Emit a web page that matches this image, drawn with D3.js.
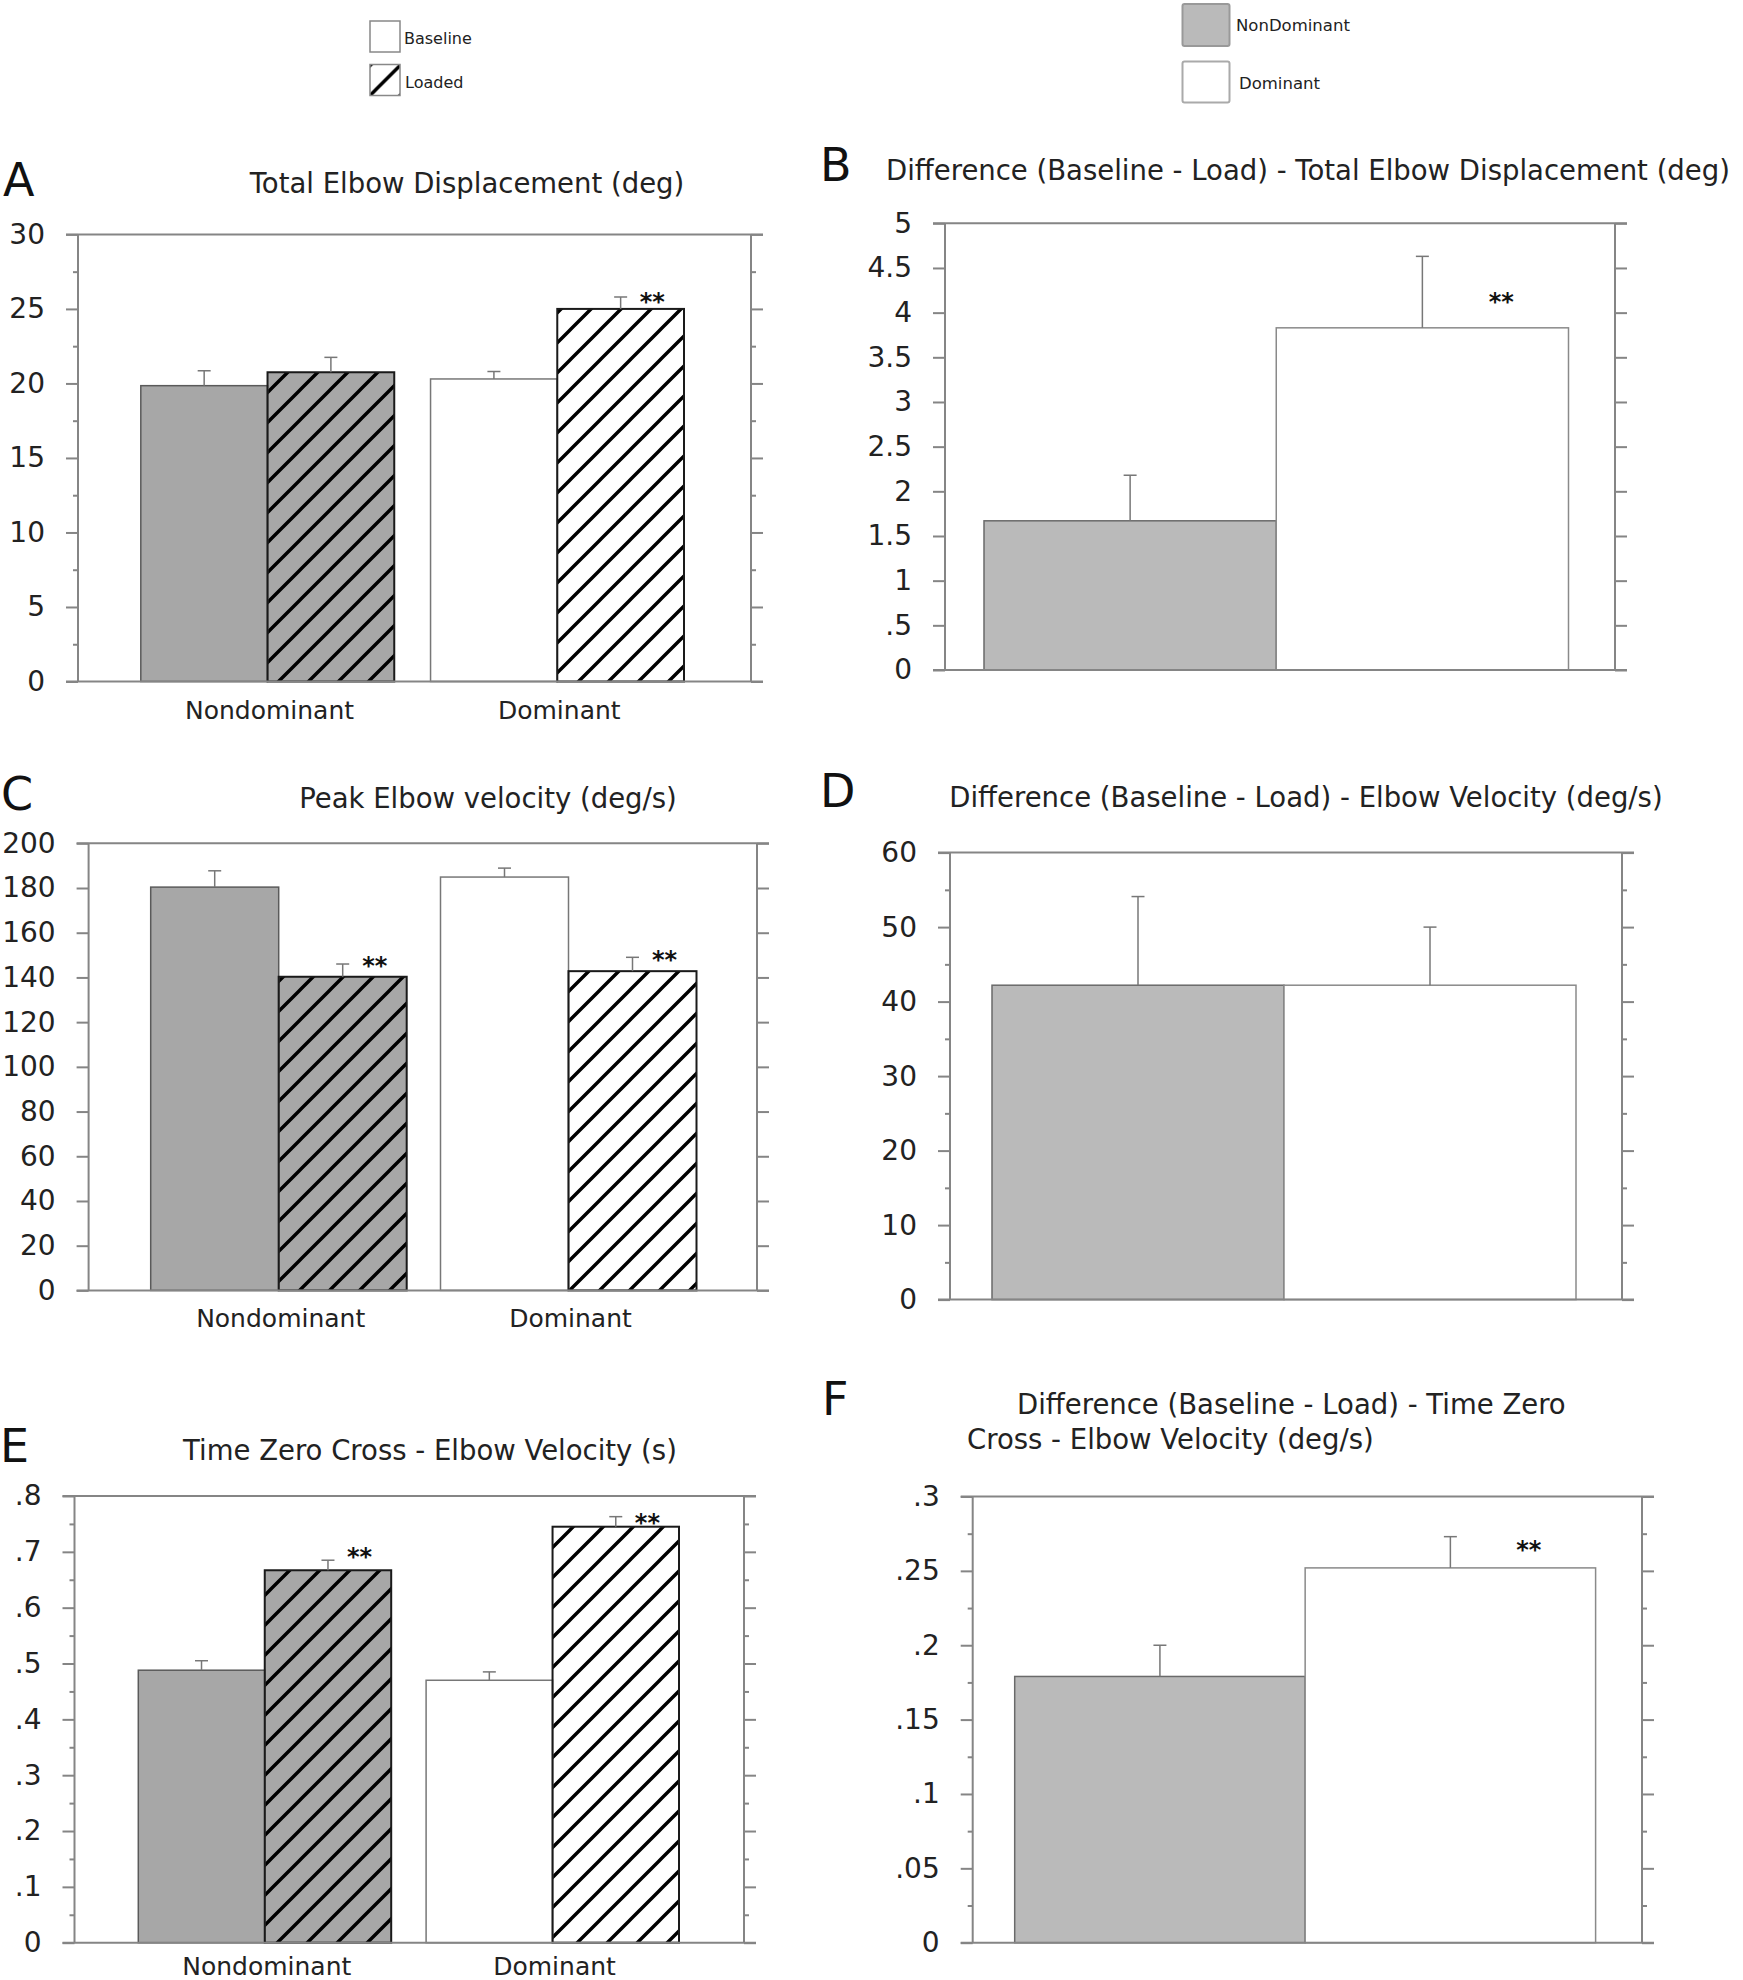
<!DOCTYPE html>
<html>
<head>
<meta charset="utf-8">
<script src="https://cdn.jsdelivr.net/npm/d3@7"></script>
<style>
html, body { margin: 0; padding: 0; background: #fff; }
svg { display: block; }
</style>
</head>
<body>
<svg id="chart" width="1743" height="1980"></svg>
<script>
// ---------------- DATA ----------------
const groupNames = ["Nondominant", "Dominant"];
const conditionNames = ["Baseline", "Loaded"];
const limbNames = ["NonDominant", "Dominant"];

// A: Total Elbow Displacement (deg)
const dispBaseline = [19.85, 20.3];
const dispBaselineErr = [1.0, 0.5];
const dispLoaded = [20.75, 25.0];
const dispLoadedErr = [1.0, 0.8];
const dispTicks = [0, 5, 10, 15, 20, 25, 30];
const dispTickLabels = ["0", "5", "10", "15", "20", "25", "30"];
const dispMinorTicks = [2.5, 7.5, 12.5, 17.5, 22.5, 27.5];
const dispStars = [{ group: "Dominant", condition: "Loaded", value: 25.9 }];

// B: Difference (Baseline - Load) - Total Elbow Displacement (deg)
const dispDiff = [1.67, 3.83];
const dispDiffErr = [0.51, 0.80];
const dispDiffTicks = [0, 0.5, 1, 1.5, 2, 2.5, 3, 3.5, 4, 4.5, 5];
const dispDiffTickLabels = ["0", ".5", "1", "1.5", "2", "2.5", "3", "3.5", "4", "4.5", "5"];
const dispDiffMinorTicks = [];
const dispDiffStars = [{ limb: "Dominant", value: 4.19 }];

// C: Peak Elbow velocity (deg/s)
const velBaseline = [180.4, 184.9];
const velBaselineErr = [7.3, 4.0];
const velLoaded = [140.3, 142.8];
const velLoadedErr = [5.7, 6.2];
const velTicks = [0, 20, 40, 60, 80, 100, 120, 140, 160, 180, 200];
const velTickLabels = ["0", "20", "40", "60", "80", "100", "120", "140", "160", "180", "200"];
const velMinorTicks = [];
const velStars = [
  { group: "Nondominant", condition: "Loaded", value: 147.8 },
  { group: "Dominant", condition: "Loaded", value: 150.7 }
];

// D: Difference (Baseline - Load) - Elbow Velocity (deg/s)
const velDiff = [42.2, 42.2];
const velDiffErr = [11.9, 7.8];
const velDiffTicks = [0, 10, 20, 30, 40, 50, 60];
const velDiffTickLabels = ["0", "10", "20", "30", "40", "50", "60"];
const velDiffMinorTicks = [5, 15, 25, 35, 45, 55];
const velDiffStars = [];

// E: Time Zero Cross - Elbow Velocity (s)
const tzcBaseline = [0.488, 0.470];
const tzcBaselineErr = [0.017, 0.015];
const tzcLoaded = [0.667, 0.745];
const tzcLoadedErr = [0.018, 0.018];
const tzcTicks = [0, 0.1, 0.2, 0.3, 0.4, 0.5, 0.6, 0.7, 0.8];
const tzcTickLabels = ["0", ".1", ".2", ".3", ".4", ".5", ".6", ".7", ".8"];
const tzcMinorTicks = [0.05, 0.15, 0.25, 0.35, 0.45, 0.55, 0.65, 0.75];
const tzcStars = [
  { group: "Nondominant", condition: "Loaded", value: 0.702 },
  { group: "Dominant", condition: "Loaded", value: 0.763 }
];

// F: Difference (Baseline - Load) - Time Zero Cross - Elbow Velocity (deg/s)
const tzcDiff = [0.179, 0.252];
const tzcDiffErr = [0.021, 0.021];
const tzcDiffTicks = [0, 0.05, 0.1, 0.15, 0.2, 0.25, 0.3];
const tzcDiffTickLabels = ["0", ".05", ".1", ".15", ".2", ".25", ".3"];
const tzcDiffMinorTicks = [0.025, 0.075, 0.125, 0.175, 0.225, 0.275];
const tzcDiffStars = [{ limb: "Dominant", value: 0.268 }];

// ---------------- STYLE ----------------
const FONT = '"DejaVu Sans", Verdana, sans-serif';
const AXIS = "#858585";
const TXT = "#222";
const GRAY_GROUPED = "#a7a7a7";
const GRAY_DIFF = "#bababa";
const HATCH = 30;

const svg = d3.select("#chart");
const defs = svg.append("defs");

function makeHatch(id, shift) {
  const s = HATCH, q = s / 4;
  const p = defs.append("pattern")
    .attr("id", id)
    .attr("patternUnits", "userSpaceOnUse")
    .attr("width", s).attr("height", s)
    .attr("patternTransform", `translate(${shift},0)`);
  p.append("path")
    .attr("d", `M${-q},${q} L${q},${-q} M0,${s} L${s},0 M${s - q},${s + q} L${s + q},${s - q}`)
    .attr("stroke", "#000").attr("stroke-width", 3.4);
}
makeHatch("hatch", 0);
makeHatch("hatchLegend", 15.5);

// ---------------- FRAME / AXES ----------------
function drawFrame(L, y, ticks, labels, minor) {
  const g = svg.append("g");
  const major = 12, minorLen = 5;

  const la = g.append("g").attr("transform", `translate(${L.left},0)`)
    .call(d3.axisLeft(y).tickValues(ticks).tickFormat((d, i) => labels[i])
      .tickSize(major).tickPadding(21));
  la.select(".domain").remove();
  la.selectAll("line").attr("stroke", AXIS).attr("stroke-width", 2);
  la.selectAll("text").attr("font-family", FONT).attr("font-size", 28).attr("fill", TXT);

  const ra = g.append("g").attr("transform", `translate(${L.right},0)`)
    .call(d3.axisRight(y).tickValues(ticks).tickFormat("").tickSize(major));
  ra.select(".domain").remove();
  ra.selectAll("line").attr("stroke", AXIS).attr("stroke-width", 2);

  if (minor.length) {
    const lm = g.append("g").attr("transform", `translate(${L.left},0)`)
      .call(d3.axisLeft(y).tickValues(minor).tickFormat("").tickSize(minorLen));
    lm.select(".domain").remove();
    lm.selectAll("line").attr("stroke", AXIS).attr("stroke-width", 2);
    const rm = g.append("g").attr("transform", `translate(${L.right},0)`)
      .call(d3.axisRight(y).tickValues(minor).tickFormat("").tickSize(minorLen));
    rm.select(".domain").remove();
    rm.selectAll("line").attr("stroke", AXIS).attr("stroke-width", 2);
  }

  const [d0, d1] = y.domain();
  [L.left, L.right].forEach(xv => {
    g.append("line").attr("x1", xv).attr("x2", xv)
      .attr("y1", y(d1)).attr("y2", y(d0))
      .attr("stroke", AXIS).attr("stroke-width", 2);
  });
  [d0, d1].forEach(v => {
    g.append("line").attr("x1", L.left - major).attr("x2", L.right + major)
      .attr("y1", y(v)).attr("y2", y(v))
      .attr("stroke", AXIS).attr("stroke-width", 2);
  });
}

function errorBar(g, cx, yTop, yErr) {
  g.append("line").attr("x1", cx).attr("x2", cx).attr("y1", yTop).attr("y2", yErr)
    .attr("stroke", "#777").attr("stroke-width", 1.5);
  g.append("line").attr("x1", cx - 6.5).attr("x2", cx + 6.5).attr("y1", yErr).attr("y2", yErr)
    .attr("stroke", "#777").attr("stroke-width", 1.5);
}

function star(g, x, yv) {
  g.append("text").attr("x", x).attr("y", yv + 14)
    .attr("text-anchor", "middle")
    .attr("font-family", FONT).attr("font-size", 24).attr("font-weight", "bold").attr("fill", "#111")
    .text("**");
}

// ---------------- GROUPED PANEL ----------------
function drawGrouped(L, d) {
  const y = d3.scaleLinear().domain([0, L.max]).range([L.bottom, L.top]);
  const n = groupNames.length;
  const W = L.barEnd - L.barStart;
  const bw = (W - (n - 1) * L.gap) / n;
  const x0 = d3.scaleBand().domain(groupNames).range([L.barStart, L.barEnd])
    .paddingInner(L.gap / (bw + L.gap)).paddingOuter(0);
  const x1 = d3.scaleBand().domain(conditionNames).range([0, x0.bandwidth()]);

  const rows = [];
  groupNames.forEach((gn, gi) => conditionNames.forEach((cn, ci) => {
    rows.push({
      group: gn, gi, cond: cn, ci,
      v: ci === 0 ? d.baseline[gi] : d.loaded[gi],
      e: ci === 0 ? d.baselineErr[gi] : d.loadedErr[gi]
    });
  }));

  const g = svg.append("g");
  g.selectAll("rect.fill").data(rows).join("rect")
    .attr("class", "fill")
    .attr("x", r => x0(r.group) + x1(r.cond))
    .attr("y", r => y(r.v))
    .attr("width", x1.bandwidth())
    .attr("height", r => y(0) - y(r.v))
    .attr("fill", r => r.gi === 0 ? GRAY_GROUPED : "#fff");
  g.selectAll("rect.hatch").data(rows.filter(r => r.ci === 1)).join("rect")
    .attr("class", "hatch")
    .attr("x", r => x0(r.group) + x1(r.cond))
    .attr("y", r => y(r.v))
    .attr("width", x1.bandwidth())
    .attr("height", r => y(0) - y(r.v))
    .attr("fill", "url(#hatch)");
  g.selectAll("rect.outline").data(rows).join("rect")
    .attr("class", "outline")
    .attr("x", r => x0(r.group) + x1(r.cond))
    .attr("y", r => y(r.v))
    .attr("width", x1.bandwidth())
    .attr("height", r => y(0) - y(r.v))
    .attr("fill", "none")
    .attr("stroke", r => r.ci === 1 ? "#1a1a1a" : (r.gi === 0 ? "#5a5a5a" : "#777"))
    .attr("stroke-width", r => r.ci === 1 ? 2 : 1.5);

  drawFrame(L, y, d.ticks, d.labels, d.minor);

  const ge = svg.append("g");
  rows.forEach(r => {
    const cx = x0(r.group) + x1(r.cond) + x1.bandwidth() / 2;
    errorBar(ge, cx, y(r.v), y(r.v + r.e));
  });
  d.stars.forEach(s => {
    const cx = x0(s.group) + x1(s.condition) + x1.bandwidth() * 0.75;
    star(ge, cx, y(s.value));
  });

  svg.append("g").selectAll("text").data(groupNames).join("text")
    .attr("x", gn => x0(gn) + x0.bandwidth() / 2 + 2)
    .attr("y", L.labelY)
    .attr("text-anchor", "middle")
    .attr("font-family", FONT).attr("font-size", 25).attr("fill", TXT)
    .text(gn => gn);
}

// ---------------- DIFFERENCE PANEL ----------------
function drawDiff(L, d) {
  const y = d3.scaleLinear().domain([0, L.max]).range([L.bottom, L.top]);
  const x = d3.scaleBand().domain(limbNames).range([L.barStart, L.barEnd]);
  const rows = limbNames.map((ln, i) => ({ limb: ln, i, v: d.values[i], e: d.errs[i] }));

  const g = svg.append("g");
  g.selectAll("rect").data(rows).join("rect")
    .attr("x", r => x(r.limb))
    .attr("y", r => y(r.v))
    .attr("width", x.bandwidth())
    .attr("height", r => y(0) - y(r.v))
    .attr("fill", r => r.i === 0 ? GRAY_DIFF : "#fff")
    .attr("stroke", r => r.i === 0 ? "#6a6a6a" : "#8a8a8a")
    .attr("stroke-width", 1.5);

  drawFrame(L, y, d.ticks, d.labels, d.minor);

  const ge = svg.append("g");
  rows.forEach(r => {
    const cx = x(r.limb) + x.bandwidth() / 2;
    errorBar(ge, cx, y(r.v), y(r.v + r.e));
  });
  d.stars.forEach(s => {
    star(ge, x(s.limb) + x.bandwidth() * 0.77, y(s.value));
  });
}

// ---------------- PANELS ----------------
drawGrouped(
  { left: 78, right: 751, top: 234.4, bottom: 681.5, max: 30,
    barStart: 140.8, barEnd: 684, gap: 36.3, labelY: 719 },
  { baseline: dispBaseline, baselineErr: dispBaselineErr, loaded: dispLoaded, loadedErr: dispLoadedErr,
    ticks: dispTicks, labels: dispTickLabels, minor: dispMinorTicks, stars: dispStars });

drawDiff(
  { left: 945, right: 1615, top: 223.3, bottom: 670, max: 5, barStart: 984, barEnd: 1568.5 },
  { values: dispDiff, errs: dispDiffErr, ticks: dispDiffTicks, labels: dispDiffTickLabels,
    minor: dispDiffMinorTicks, stars: dispDiffStars });

drawGrouped(
  { left: 88.6, right: 757, top: 843.3, bottom: 1290.4, max: 200,
    barStart: 150.7, barEnd: 696.5, gap: 33.8, labelY: 1327 },
  { baseline: velBaseline, baselineErr: velBaselineErr, loaded: velLoaded, loadedErr: velLoadedErr,
    ticks: velTicks, labels: velTickLabels, minor: velMinorTicks, stars: velStars });

drawDiff(
  { left: 950, right: 1622, top: 852.6, bottom: 1299.6, max: 60, barStart: 992, barEnd: 1576 },
  { values: velDiff, errs: velDiffErr, ticks: velDiffTicks, labels: velDiffTickLabels,
    minor: velDiffMinorTicks, stars: velDiffStars });

drawGrouped(
  { left: 74.5, right: 744, top: 1496, bottom: 1942.7, max: 0.8,
    barStart: 138.3, barEnd: 679, gap: 34.9, labelY: 1975 },
  { baseline: tzcBaseline, baselineErr: tzcBaselineErr, loaded: tzcLoaded, loadedErr: tzcLoadedErr,
    ticks: tzcTicks, labels: tzcTickLabels, minor: tzcMinorTicks, stars: tzcStars });

drawDiff(
  { left: 972.7, right: 1642, top: 1496.5, bottom: 1942.7, max: 0.3, barStart: 1014.7, barEnd: 1595.6 },
  { values: tzcDiff, errs: tzcDiffErr, ticks: tzcDiffTicks, labels: tzcDiffTickLabels,
    minor: tzcDiffMinorTicks, stars: tzcDiffStars });

// ---------------- TITLES & LETTERS ----------------
const titles = [
  { t: "Total Elbow Displacement (deg)", x: 467, y: 193, a: "middle" },
  { t: "Difference (Baseline - Load) - Total Elbow Displacement (deg)", x: 886, y: 180, a: "start" },
  { t: "Peak Elbow velocity (deg/s)", x: 488, y: 808, a: "middle" },
  { t: "Difference (Baseline - Load) - Elbow Velocity (deg/s)", x: 1306, y: 807, a: "middle" },
  { t: "Time Zero Cross - Elbow Velocity (s)", x: 430, y: 1460, a: "middle" },
  { t: "Difference (Baseline - Load) - Time Zero", x: 1017, y: 1414, a: "start" },
  { t: "Cross - Elbow Velocity (deg/s)", x: 967, y: 1449, a: "start" }
];
svg.append("g").selectAll("text").data(titles).join("text")
  .attr("x", d => d.x).attr("y", d => d.y).attr("text-anchor", d => d.a)
  .attr("font-family", FONT).attr("font-size", 27.5).attr("fill", TXT)
  .text(d => d.t);

const letters = [
  { t: "A", x: 3, y: 196 }, { t: "B", x: 820, y: 181 },
  { t: "C", x: 1, y: 810 }, { t: "D", x: 820, y: 807 },
  { t: "E", x: 0, y: 1462 }, { t: "F", x: 822, y: 1415 }
];
svg.append("g").selectAll("text").data(letters).join("text")
  .attr("x", d => d.x).attr("y", d => d.y)
  .attr("font-family", FONT).attr("font-size", 46).attr("fill", "#111")
  .text(d => d.t);

// ---------------- LEGENDS ----------------
const legL = svg.append("g");
legL.append("rect").attr("x", 370).attr("y", 21).attr("width", 30).attr("height", 31)
  .attr("fill", "#fff").attr("stroke", "#888").attr("stroke-width", 1.5);
legL.append("rect").attr("x", 370).attr("y", 64.5).attr("width", 30).attr("height", 31)
  .attr("fill", "url(#hatchLegend)").attr("stroke", "#888").attr("stroke-width", 1.5);
legL.append("text").attr("x", 404).attr("y", 43.5).attr("font-family", FONT)
  .attr("font-size", 16).attr("fill", TXT).text(conditionNames[0]);
legL.append("text").attr("x", 405).attr("y", 87.5).attr("font-family", FONT)
  .attr("font-size", 16).attr("fill", TXT).text("Loaded");

const legR = svg.append("g");
legR.append("rect").attr("x", 1182.5).attr("y", 4).attr("width", 47).attr("height", 42).attr("rx", 2)
  .attr("fill", GRAY_DIFF).attr("stroke", "#999").attr("stroke-width", 2);
legR.append("rect").attr("x", 1182.5).attr("y", 61.5).attr("width", 47).attr("height", 41).attr("rx", 2)
  .attr("fill", "#fff").attr("stroke", "#aaa").attr("stroke-width", 2);
legR.append("text").attr("x", 1236).attr("y", 31).attr("font-family", FONT)
  .attr("font-size", 16.5).attr("fill", TXT).text(limbNames[0]);
legR.append("text").attr("x", 1239).attr("y", 89).attr("font-family", FONT)
  .attr("font-size", 16.5).attr("fill", TXT).text(limbNames[1]);
</script>
</body>
</html>
